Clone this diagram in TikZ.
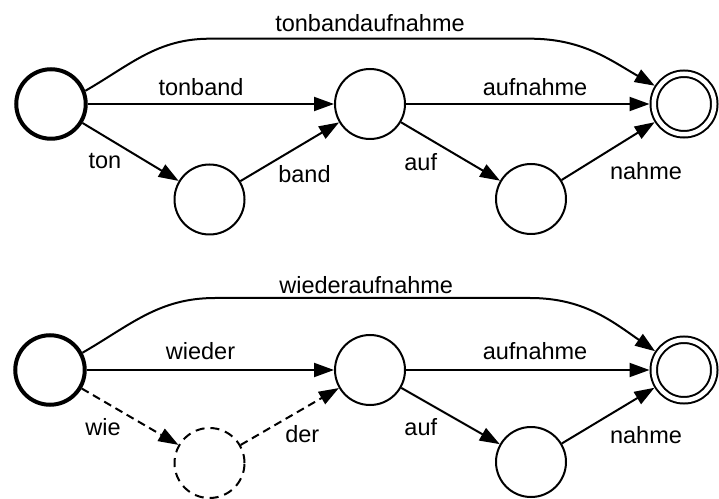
\documentclass[tikz,border=0pt]{standalone}
\usepackage{fontspec}
\setmainfont{Liberation Sans}
\usetikzlibrary{positioning,arrows.meta}

\begin{document}
\begin{tikzpicture}[
  x = 1pt, y = 1pt,
  every node/.style={font=\fontsize{23.5}{28}\selectfont},
  state/.style={circle,draw,line width=2pt,minimum size=70pt,inner sep=0pt},
  init-state/.style={state,line width=4pt,minimum size=69.5pt},
  accept-state/.style={state,double,double distance=4.5pt,minimum size=60.5pt,outer sep=4.25pt},
  guess-state/.style={state,dash pattern=on 9pt off 6pt},
  arrow/.style={line width=2pt,-{Triangle[length=20pt,width=14pt]}},
  guess-arrow/.style={arrow,dash pattern=on 8pt off 5pt},
  ]
  \useasboundingbox (0,0) rectangle (719,498);

  % tonbandaufnahme
  \node [init-state]   (T0) at (51,394)    {};
  \node [state]        (T1) at (370,394)   {};
  \node [state]        (T2) at (209.5,298.5) {};
  \node [state]        (T3) at (531,299)   {};
  \node [accept-state] (T4) at (684,394)   {};
  \coordinate (Ta) at (210,459.3);
  \coordinate (Tb) at (530,459.3);

  \draw [arrow] (T0) -- node [pos=.46, above=4pt] {tonband} (T1);
  \draw [arrow] (T0) -- node [pos=.45, below left, inner sep=3.5pt] {ton} (T2);
  \draw [arrow] (T2) -- node [pos=.34, below right] {band} (T1);
  \draw [arrow] (T1) -- node [pos=.53, above=4pt] {aufnahme} (T4);
  \draw [arrow] (T1) -- node [pos=.43, below left, inner sep=5.5pt] {auf} (T3);
  \draw [arrow] (T3) -- node [pos=.44, below right, inner sep=6.5pt] {nahme} (T4);
  \draw [arrow] (T0.21) to [out=30,in=180] (Ta)
    -- node [above=3pt] {tonbandaufnahme} (Tb)
    to [out=0,in=150] (T4.148);

  % wiederaufnahme
  \node [init-state]   (W0) at (50,128)    {};
  \node [state]        (W1) at (370,128)   {};
  \node [guess-state]  (W2) at (209.5,35)  {};
  \node [state]        (W3) at (531,36)    {};
  \node [accept-state] (W4) at (684,128)   {};
  \coordinate (Wa) at (215,200);
  \coordinate (Wb) at (530,200);

  \draw [arrow] (W0) -- node [pos=.46, above=6pt] {wieder} (W1);
  \draw [guess-arrow] (W0) -- node [pos=.45, below left, inner sep=3.5pt] {wie} (W2);
  \draw [guess-arrow] (W2) -- node [pos=.41, below right] {der} (W1);
  \draw [arrow] (W1) -- node [pos=.53, above=6pt] {aufnahme} (W4);
  \draw [arrow] (W1) -- node [pos=.43, below left, inner sep=5.5pt] {auf} (W3);
  \draw [arrow] (W3) -- node [pos=.44, below right, inner sep=6.5pt] {nahme} (W4);
  \draw [arrow] (W0.28) to [out=30,in=180] (Wa)
    -- node [pos=.48, above] {wiederaufnahme} (Wb)
    to [out=0,in=145] (W4.147);
\end{tikzpicture}
\end{document}
